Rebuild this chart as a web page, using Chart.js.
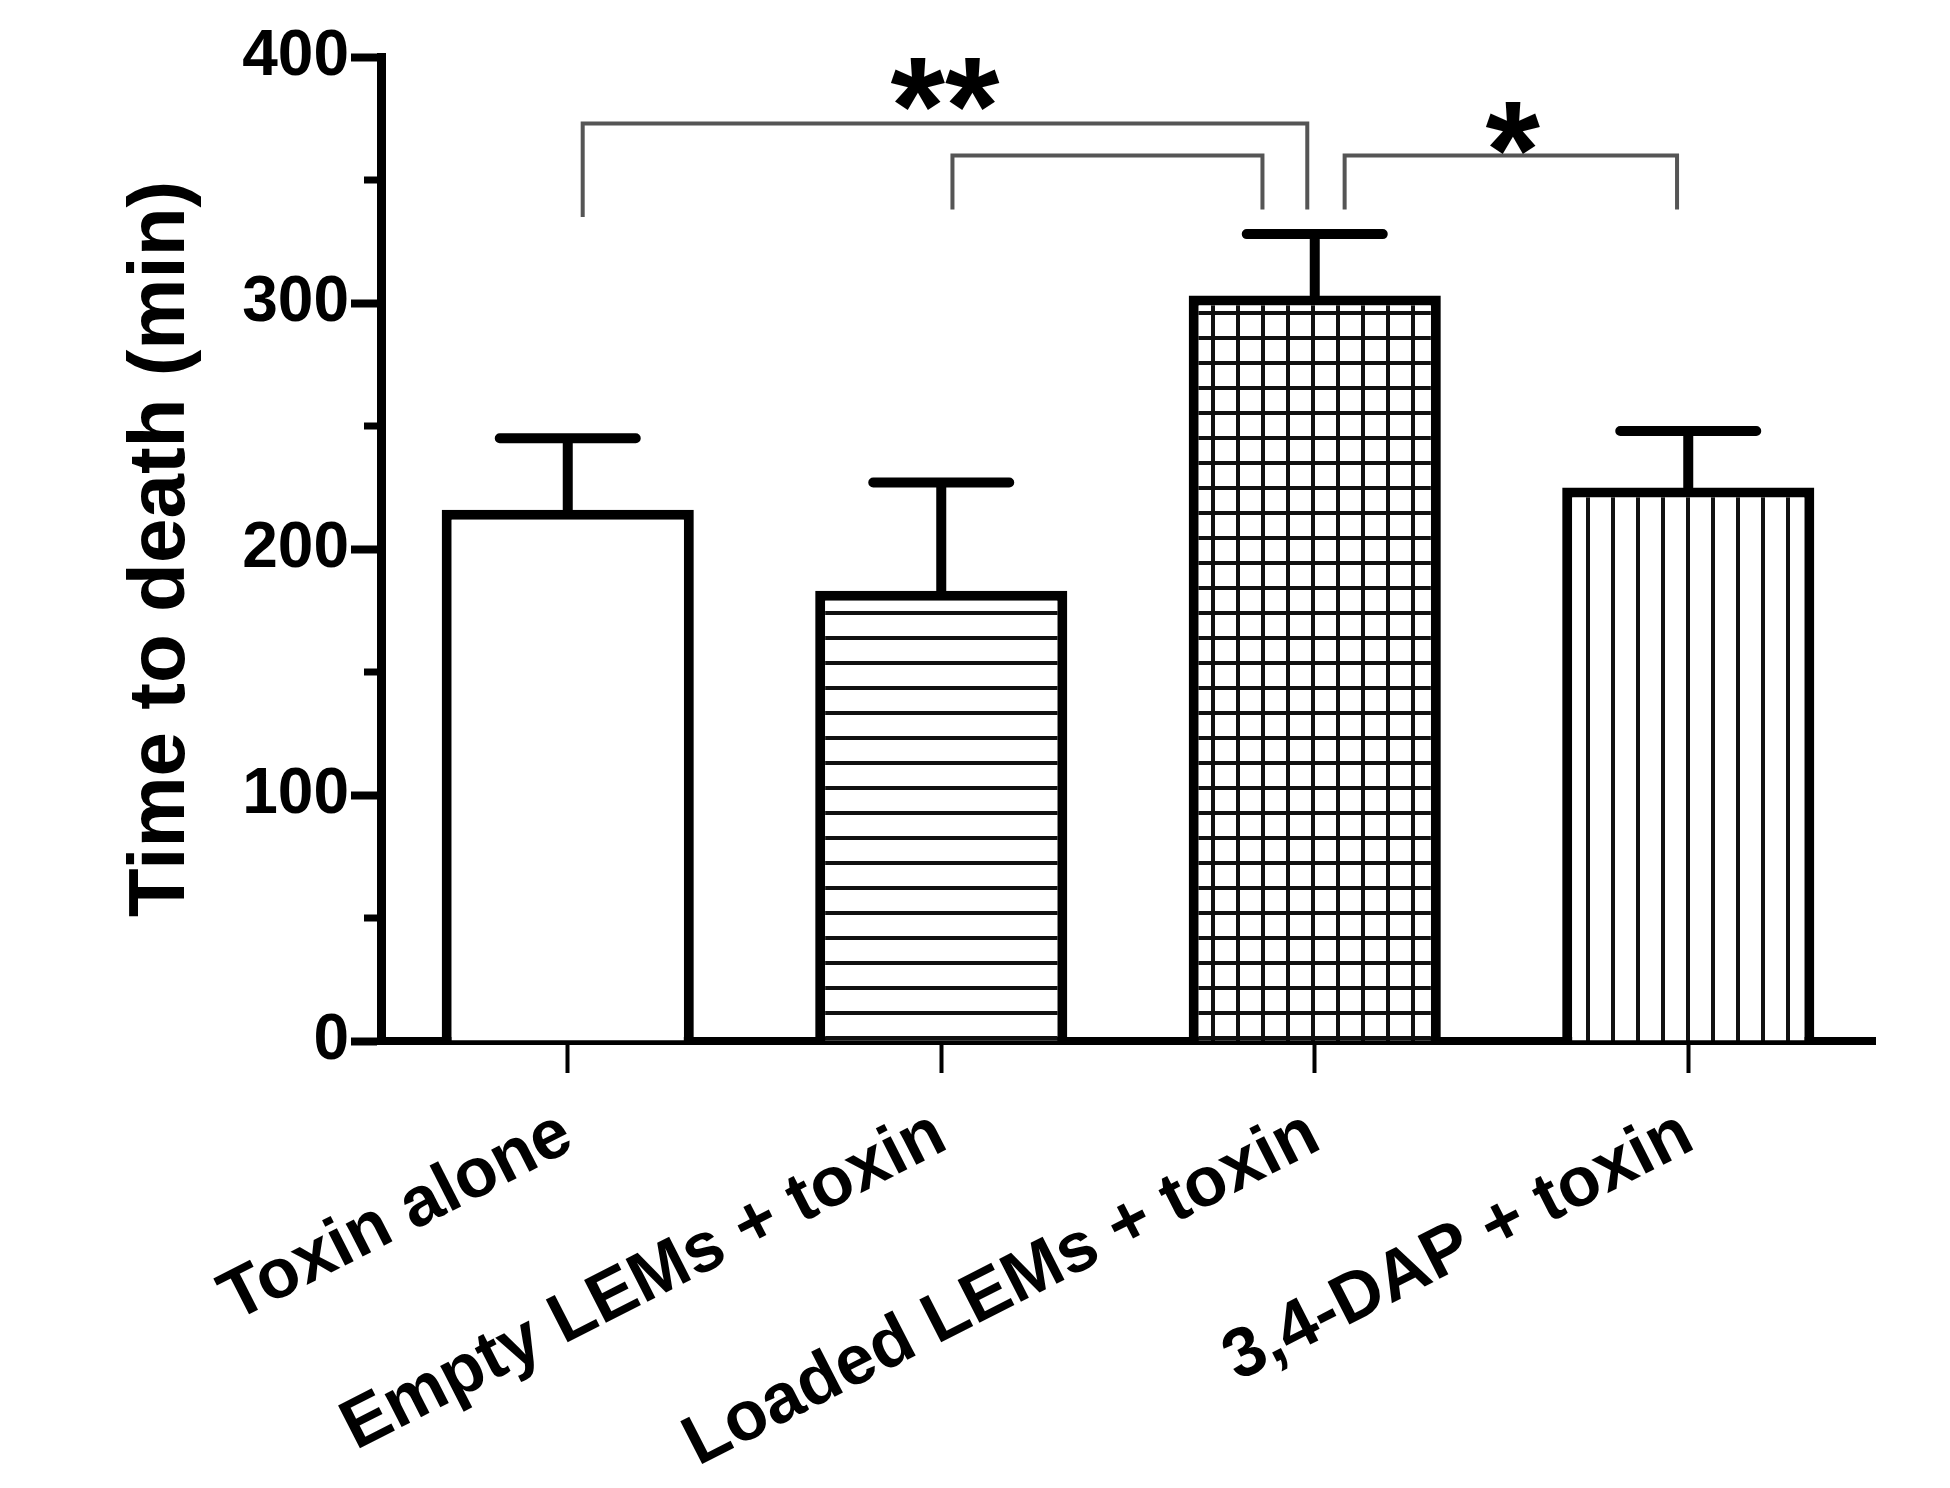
<!DOCTYPE html>
<html>
<head>
<meta charset="utf-8">
<script src="https://cdn.jsdelivr.net/npm/chart.js@4"></script>
<style>
  html, body { margin: 0; padding: 0; background: #fff; }
  canvas { display: block; }
</style>
</head>
<body>
<canvas id="chart" width="1950" height="1488"></canvas>
<script>
'use strict';

// groups and values
var groups = ['Toxin alone', 'Empty LEMs + toxin', 'Loaded LEMs + toxin', '3,4-DAP + toxin'];
var meanTime = [216, 183, 303, 225];
var semTime = [29, 44, 25, 23];
var fills = ['none', 'h', 'hv', 'v'];

// significance brackets, x in category units, y in minutes
var bracketLeft = [0.04, 1.03, 2.08];
var bracketRight = [1.98, 1.86, 2.97];
var bracketTop = [373, 360, 360];
var bracketLegLeft = [335, 338, 338];
var bracketLegRight = [338, 338, 338];
var starText = ['**', '*'];
var starAt = [1.01, 2.53];
var starY = [393, 375];

var yMinor = [50, 150, 250, 350];

var FONT = "'Liberation Sans', Arial, sans-serif";
Chart.defaults.font.family = FONT;
Chart.defaults.color = '#000';

var canvas = document.getElementById('chart');
var ctx = canvas.getContext('2d');

function makePattern(kind) {
    var c = document.createElement('canvas');
    c.width = 25;
    c.height = 25;
    var g = c.getContext('2d');
    g.fillStyle = '#fff';
    g.fillRect(0, 0, 25, 25);
    g.fillStyle = '#111';
    if (kind.indexOf('h') >= 0) g.fillRect(0, 11, 25, 4);
    if (kind.indexOf('v') >= 0) g.fillRect(11, 0, 4, 25);
    return ctx.createPattern(c, 'repeat');
}

var barFills = fills.map(k => k === 'none' ? '#fff' : makePattern(k));

function catPx(xs, v) {
    var p0 = xs.getPixelForValue(0);
    var step = xs.getPixelForValue(1) - p0;
    return p0 + v * step;
}

var extras = {
    id: 'extras',
    afterDatasetsDraw(chart) {
        var c = chart.ctx;
        var xs = chart.scales.x;
        var ys = chart.scales.y;
        var meta = chart.getDatasetMeta(0);
        c.save();

        // error bars (upper half only)
        c.strokeStyle = '#000';
        c.lineWidth = 10;
        c.lineCap = 'round';
        meta.data.forEach((bar, i) => {
            var top = ys.getPixelForValue(meanTime[i] + semTime[i]);
            var base = ys.getPixelForValue(meanTime[i]);
            c.beginPath();
            c.moveTo(bar.x, base);
            c.lineTo(bar.x, top);
            c.moveTo(bar.x - 68, top);
            c.lineTo(bar.x + 68, top);
            c.stroke();
        });

        // minor y ticks
        c.lineCap = 'butt';
        c.lineWidth = 7;
        yMinor.forEach(v => {
            var py = ys.getPixelForValue(v);
            c.beginPath();
            c.moveTo(chart.chartArea.left - 17, py);
            c.lineTo(chart.chartArea.left, py);
            c.stroke();
        });

        // brackets
        c.strokeStyle = '#555';
        c.lineWidth = 4;
        bracketLeft.forEach((l, i) => {
            var x1 = catPx(xs, l);
            var x2 = catPx(xs, bracketRight[i]);
            var yt = ys.getPixelForValue(bracketTop[i]);
            c.beginPath();
            c.moveTo(x1, ys.getPixelForValue(bracketLegLeft[i]));
            c.lineTo(x1, yt);
            c.lineTo(x2, yt);
            c.lineTo(x2, ys.getPixelForValue(bracketLegRight[i]));
            c.stroke();
        });

        // stars
        var size = 140;
        c.fillStyle = '#000';
        c.font = 'bold ' + size + 'px ' + FONT;
        c.textAlign = 'center';
        c.textBaseline = 'alphabetic';
        starText.forEach((s, i) => {
            var cy = ys.getPixelForValue(starY[i]);
            c.fillText(s, catPx(xs, starAt[i]), cy + 0.57 * size);
        });

        c.restore();
    }
};

var chart = new Chart(ctx, {
    type: 'bar',
    data: {
        labels: groups,
        datasets: [{
            data: meanTime,
            backgroundColor: barFills,
            borderColor: '#000',
            borderWidth: 10,
            borderSkipped: 'bottom',
            barPercentage: 0.675,
            categoryPercentage: 1
        }]
    },
    options: {
        responsive: false,
        animation: false,
        devicePixelRatio: 1,
        layout: { padding: { top: 57, right: 75, left: 114, bottom: 10 } },
        plugins: {
            legend: { display: false },
            tooltip: { enabled: false }
        },
        scales: {
            x: {
                grid: {
                    offset: false,
                    drawOnChartArea: false,
                    drawTicks: true,
                    tickLength: 32,
                    tickWidth: 4,
                    tickColor: '#000'
                },
                border: { display: true, color: '#000', width: 8 },
                ticks: {
                    autoSkip: false,
                    minRotation: 27,
                    maxRotation: 27,
                    padding: 20,
                    color: '#000',
                    font: { size: 70, weight: 'bold' }
                },
                afterFit(scale) { scale.height = 1488 - 1041 - 10; }
            },
            y: {
                min: 0,
                max: 400,
                ticks: {
                    stepSize: 50,
                    padding: 2,
                    color: '#000',
                    font: { size: 64, weight: 'bold' },
                    callback: v => v % 100 === 0 ? String(v) : ''
                },
                grid: {
                    drawOnChartArea: false,
                    drawTicks: true,
                    tickLength: 30,
                    tickWidth: 8,
                    tickColor: c => (c.tick && c.tick.value % 100 === 0) ? '#000' : 'rgba(0,0,0,0)'
                },
                border: { display: true, color: '#000', width: 9 },
                title: {
                    display: true,
                    text: 'Time to death (min)',
                    color: '#000',
                    font: { size: 80, weight: 'bold' },
                    padding: { top: 0, bottom: 20 }
                },
                afterFit(scale) { scale.width = 381 - 114; }
            }
        }
    },
    plugins: [extras]
});
</script>
</body>
</html>
